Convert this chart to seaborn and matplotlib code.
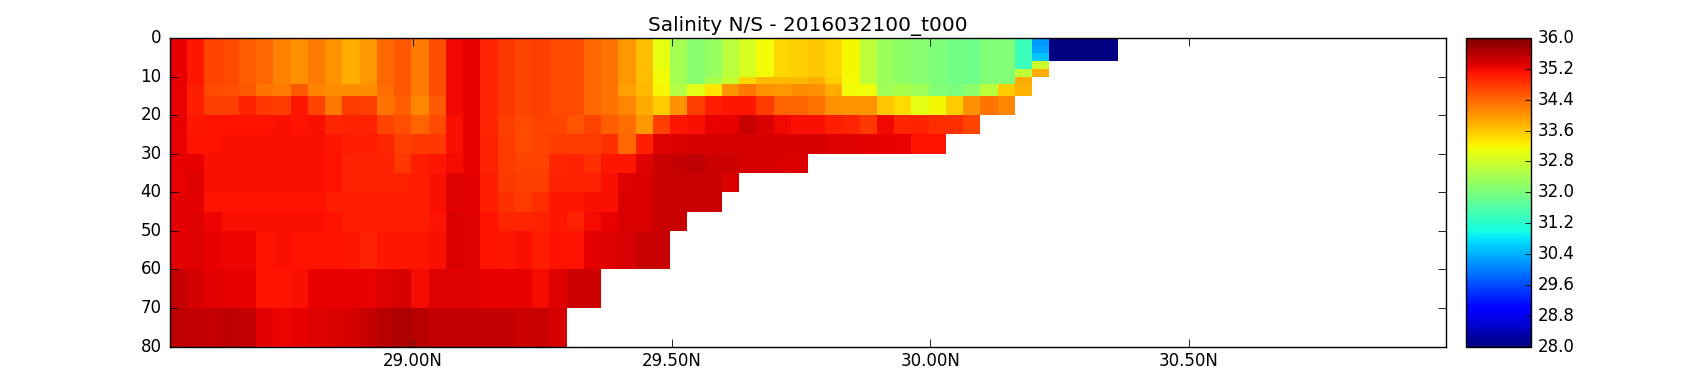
#!/usr/bin/env python3
# -*- coding: utf-8 -*-
#%% Librerias
import numpy as np
import pandas as pd
import matplotlib.pyplot as plt
import seaborn as sns

#%% Datos (salinidad por capa de profundidad, de sur a norte, 1/30 de grado)
depth_edges = [0, 2, 4, 6, 8, 10, 12, 15, 20, 25, 30, 35, 40, 45, 50, 60, 70, 80]
lat_start = 28.53
lat_step = 1 / 30
n_lat = 74

sal_00_02 = [35.28, 35.07, 34.69, 34.65, 34.48, 34.39, 34.18, 34.05, 34.22, 34.01, 33.80, 33.97, 34.39, 34.52, 34.22, 34.60, 35.19, 35.26, 34.94, 34.81,
             34.69, 34.73, 34.65, 34.65, 34.39, 34.31, 33.97, 33.67, 33.04, 32.40, 32.11, 32.26, 32.60, 32.89, 33.14, 33.46, 33.50, 33.59, 33.46, 33.18,
             32.65, 32.31, 32.20, 32.11, 32.02, 31.92, 31.87, 32.06, 32.06, 31.38, 30.20, 28.00, 28.00, 28.00, 28.00]
sal_02_04 = [35.28, 35.07, 34.69, 34.65, 34.48, 34.39, 34.18, 34.05, 34.22, 34.01, 33.80, 33.97, 34.39, 34.52, 34.22, 34.60, 35.19, 35.26, 34.94, 34.81,
             34.69, 34.73, 34.65, 34.65, 34.39, 34.31, 33.97, 33.67, 33.04, 32.40, 32.11, 32.26, 32.60, 32.89, 33.14, 33.46, 33.50, 33.59, 33.46, 33.18,
             32.65, 32.31, 32.20, 32.11, 32.02, 31.92, 31.87, 32.06, 32.06, 31.38, 30.30, 28.00, 28.00, 28.00, 28.00]
sal_04_06 = [35.28, 35.07, 34.69, 34.65, 34.48, 34.39, 34.18, 34.05, 34.22, 34.01, 33.80, 33.97, 34.39, 34.52, 34.22, 34.60, 35.19, 35.26, 34.94, 34.81,
             34.69, 34.73, 34.65, 34.65, 34.39, 34.31, 33.97, 33.67, 33.04, 32.40, 32.11, 32.26, 32.60, 32.89, 33.14, 33.46, 33.50, 33.59, 33.46, 33.18,
             32.65, 32.31, 32.20, 32.11, 32.02, 31.92, 31.87, 32.06, 32.06, 31.38, 30.55, 28.00, 28.00, 28.00, 28.00]
sal_06_08 = [35.28, 35.07, 34.69, 34.65, 34.48, 34.39, 34.18, 34.05, 34.22, 34.01, 33.80, 33.97, 34.39, 34.52, 34.22, 34.60, 35.19, 35.26, 34.94, 34.81,
             34.69, 34.73, 34.65, 34.65, 34.39, 34.31, 33.97, 33.67, 33.04, 32.40, 32.11, 32.26, 32.60, 32.89, 33.14, 33.46, 33.50, 33.59, 33.46, 33.18,
             32.65, 32.31, 32.20, 32.11, 32.02, 31.92, 31.87, 32.06, 32.06, 31.38, 32.75]
sal_08_10 = [35.28, 35.07, 34.69, 34.65, 34.48, 34.39, 34.18, 34.05, 34.22, 34.01, 33.80, 33.97, 34.39, 34.52, 34.22, 34.60, 35.19, 35.26, 34.94, 34.81,
             34.69, 34.73, 34.65, 34.65, 34.39, 34.31, 33.97, 33.67, 33.14, 32.40, 32.11, 32.26, 32.60, 32.89, 33.14, 33.46, 33.50, 33.59, 33.46, 33.18,
             32.65, 32.31, 32.20, 32.11, 32.02, 31.92, 31.87, 32.06, 32.06, 32.65, 33.84]
sal_10_12 = [35.28, 35.07, 34.69, 34.65, 34.48, 34.39, 34.18, 34.05, 34.22, 34.01, 33.80, 33.97, 34.39, 34.52, 34.22, 34.60, 35.19, 35.26, 34.94, 34.81,
             34.69, 34.73, 34.65, 34.65, 34.39, 34.31, 33.97, 33.67, 33.14, 32.40, 32.11, 32.45, 32.70, 33.46, 33.71, 33.71, 33.71, 33.80, 33.50, 33.14,
             32.65, 32.31, 32.20, 32.11, 32.02, 31.92, 31.87, 32.06, 32.06, 33.80]
sal_12_15 = [35.28, 35.03, 34.65, 34.60, 34.52, 34.31, 34.22, 34.52, 34.18, 34.09, 34.09, 34.09, 34.35, 34.52, 34.22, 34.60, 35.19, 35.26, 34.94, 34.81,
             34.69, 34.73, 34.65, 34.65, 34.39, 34.31, 33.92, 33.71, 33.20, 32.55, 33.00, 33.33, 34.01, 34.26, 34.05, 33.97, 34.09, 34.05, 33.84, 33.14,
             33.10, 32.36, 32.45, 32.36, 32.06, 31.97, 32.16, 32.60, 33.54, 33.76]
sal_15_20 = [35.28, 35.03, 34.73, 34.73, 34.98, 34.81, 34.77, 35.07, 34.69, 34.26, 34.77, 34.73, 34.31, 34.48, 34.14, 34.52, 35.19, 35.26, 34.94, 34.81,
             34.69, 34.73, 34.65, 34.65, 34.39, 34.31, 34.14, 33.84, 33.54, 34.05, 34.73, 35.03, 35.07, 35.07, 34.77, 34.43, 34.43, 34.31, 34.05, 34.01,
             34.01, 33.59, 33.42, 33.00, 33.18, 33.54, 34.05, 34.31, 34.14]
sal_20_25 = [35.28, 35.07, 35.11, 35.12, 35.12, 35.11, 35.13, 35.11, 35.13, 34.94, 34.98, 34.98, 34.69, 34.60, 34.43, 34.65, 35.14, 35.26, 34.94, 34.73,
             34.65, 34.69, 34.69, 34.56, 34.69, 34.48, 34.35, 33.97, 34.73, 35.07, 35.15, 35.25, 35.27, 35.47, 35.36, 35.20, 35.14, 35.14, 35.03, 34.94,
             34.81, 35.19, 34.94, 34.98, 34.90, 34.90, 34.69]
sal_25_30 = [35.28, 35.11, 35.11, 35.13, 35.13, 35.13, 35.13, 35.13, 35.13, 35.07, 35.03, 35.03, 34.94, 34.73, 34.81, 34.81, 35.14, 35.26, 34.98, 34.77,
             34.65, 34.69, 34.77, 34.77, 34.77, 34.86, 34.39, 35.03, 35.33, 35.36, 35.40, 35.40, 35.40, 35.40, 35.40, 35.40, 35.40, 35.40, 35.33, 35.33,
             35.30, 35.27, 35.27, 35.11, 35.11]
sal_30_35 = [35.28, 35.25, 35.13, 35.13, 35.13, 35.13, 35.13, 35.13, 35.13, 35.11, 34.98, 34.98, 34.98, 34.81, 35.03, 35.07, 35.17, 35.26, 34.98, 34.77,
             34.69, 34.69, 34.94, 34.98, 34.86, 35.07, 35.07, 35.33, 35.47, 35.50, 35.55, 35.44, 35.44, 35.40, 35.40, 35.36, 35.36]
sal_35_40 = [35.28, 35.33, 35.13, 35.13, 35.13, 35.13, 35.13, 35.13, 35.13, 35.10, 34.98, 34.98, 34.98, 34.98, 35.03, 35.14, 35.33, 35.30, 35.00, 34.80,
             34.73, 34.73, 34.98, 34.98, 34.98, 35.14, 35.33, 35.36, 35.47, 35.47, 35.47, 35.47, 35.36]
sal_40_45 = [35.30, 35.30, 35.10, 35.10, 35.10, 35.10, 35.10, 35.10, 35.10, 35.03, 35.03, 35.03, 35.03, 35.03, 35.03, 35.13, 35.33, 35.30, 35.03, 34.86,
             34.77, 34.90, 35.07, 35.07, 35.14, 35.14, 35.36, 35.36, 35.47, 35.47, 35.47, 35.47]
sal_45_50 = [35.30, 35.33, 35.22, 35.15, 35.15, 35.13, 35.13, 35.13, 35.13, 35.10, 35.03, 35.03, 35.03, 35.03, 35.03, 35.10, 35.35, 35.32, 35.10, 34.94,
             34.94, 34.98, 35.07, 34.98, 35.16, 35.27, 35.36, 35.36, 35.47, 35.47]
sal_50_60 = [35.30, 35.33, 35.25, 35.22, 35.22, 35.11, 35.13, 35.12, 35.12, 35.12, 35.07, 34.98, 35.07, 35.07, 35.07, 35.14, 35.37, 35.33, 35.11, 35.07,
             35.13, 35.03, 35.11, 35.11, 35.30, 35.33, 35.40, 35.47, 35.47]
sal_60_70 = [35.50, 35.40, 35.30, 35.26, 35.26, 35.11, 35.11, 35.13, 35.26, 35.26, 35.26, 35.26, 35.33, 35.40, 35.18, 35.33, 35.33, 35.33, 35.26, 35.26,
             35.26, 35.18, 35.33, 35.44, 35.44]
sal_70_80 = [35.55, 35.50, 35.50, 35.57, 35.53, 35.30, 35.22, 35.26, 35.33, 35.36, 35.40, 35.50, 35.60, 35.67, 35.60, 35.53, 35.53, 35.53, 35.53, 35.53,
             35.44, 35.47, 35.40]

capas = [sal_00_02, sal_02_04, sal_04_06, sal_06_08, sal_08_10, sal_10_12, sal_12_15, sal_15_20, sal_20_25,
         sal_25_30, sal_30_35, sal_35_40, sal_40_45, sal_45_50, sal_50_60, sal_60_70, sal_70_80]

lat_ticks = [29.0, 29.5, 30.0, 30.5]
lat_labels = ["29.00N", "29.50N", "30.00N", "30.50N"]
depth_ticks = [0, 10, 20, 30, 40, 50, 60, 70, 80]
sal_ticks = [28.0, 28.8, 29.6, 30.4, 31.2, 32.0, 32.8, 33.6, 34.4, 35.2, 36.0]

salinidad = pd.DataFrame(capas).reindex(columns = range(n_lat))

#%% Estilo
sns.set_style("ticks")
plt.rcParams["font.family"] = "DejaVu Sans"
plt.rcParams["font.size"] = 12
plt.rcParams["axes.axisbelow"] = False
plt.rcParams["axes.edgecolor"] = "black"
plt.rcParams["xtick.color"] = "black"
plt.rcParams["ytick.color"] = "black"
plt.rcParams["text.color"] = "black"
plt.rcParams["ytick.alignment"] = "center"

#%% Grafico
fig = plt.figure(figsize = (17, 3.84), dpi = 100)
ax = fig.add_axes([170 / 1700, 1 - 346.5 / 384, 1276 / 1700, 308.5 / 384])
cax = fig.add_axes([1466 / 1700, 1 - 346.5 / 384, 64.5 / 1700, 308.5 / 384])

sns.heatmap(salinidad, ax = ax, cbar_ax = cax, cmap = "jet", vmin = 28, vmax = 36,
            xticklabels = False, yticklabels = False,
            cbar_kws = {"ticks": sal_ticks, "format": "%.1f"})

# las capas no son iguales: la escala lleva cada fila a su profundidad
filas = np.arange(len(depth_edges))
ax.set_yscale("function", functions = (lambda v: np.interp(v, filas, depth_edges),
                                       lambda v: np.interp(v, depth_edges, filas)))
ax.set_ylim(len(capas), 0)
ax.set_xlim(0, n_lat)
ax.minorticks_off()

ax.set_xticks([(lat - lat_start) / lat_step for lat in lat_ticks], lat_labels, rotation = 0, fontsize = 12)
ax.set_yticks(np.interp(depth_ticks, depth_edges, filas), depth_ticks, rotation = 0, fontsize = 12)
ax.tick_params(axis = "both", which = "both", direction = "in", length = 6, width = 0.6,
               top = True, right = True, bottom = True, left = True)
ax.tick_params(axis = "x", pad = 4)
ax.tick_params(axis = "y", pad = 6)
ax.set_xlabel("")
ax.set_ylabel("")
ax.set_title("Salinity N/S - 2016032100_t000", fontsize = 14.4, pad = 5)

for lado in ax.spines.values():
    lado.set_visible(True)
    lado.set_linewidth(1.0)
    lado.set_color("black")

cb = ax.collections[0].colorbar
cb.outline.set_linewidth(1.0)
cb.outline.set_edgecolor("black")
cax.tick_params(axis = "y", direction = "in", length = 4.5, width = 0.6, right = True, left = False,
                labelsize = 12, pad = 5)

fig.savefig("out.png", dpi = 100)
